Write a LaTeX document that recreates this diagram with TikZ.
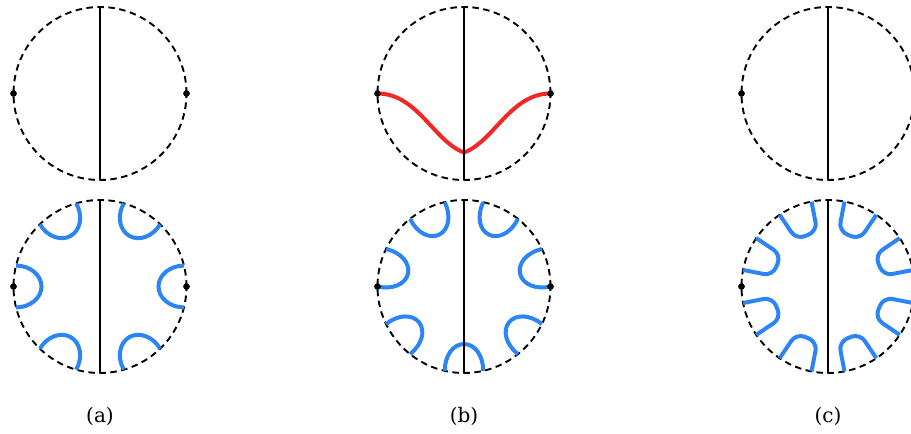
\documentclass[tikz,border=0pt]{standalone}
\usepackage{fontspec}
\setmainfont{DejaVu Serif}
\definecolor{LoopBlue}{RGB}{45,132,245}
\definecolor{PathRed}{RGB}{240,40,40}
\usepackage{tikz}
\usetikzlibrary{calc}

\newcommand{\Rd}{86.5}

\begin{document}
\begin{tikzpicture}[x=1pt, y=1pt,
    boundary/.style={black, line width=1.9pt, dash pattern=on 6.5pt off 4.5pt},
    cut/.style={black, line width=1.9pt},
    loop/.style={LoopBlue, line width=4pt},
    geod/.style={PathRed, line width=4pt},
    pin/.style={circle, fill=black, inner sep=0pt, minimum size=6.5pt},
    caption/.style={font=\fontsize{20}{24}\selectfont, anchor=base}]

  \useasboundingbox (0,0) rectangle (911,434);

  % centres of the six discs, with the ends of their cuts
  \foreach \d/\x/\y in {aT/100/340.5, aB/100/147.5, bT/464/340.5,
                        bB/464/147.5, cT/828/340.5, cB/828/147.5} {
    \coordinate (\d) at (\x,\y);
    \coordinate (\d-n) at (\x,{\y+\Rd});
    \coordinate (\d-s) at (\x,{\y-\Rd});
    \draw[boundary] (\d) circle[radius=\Rd];
  }

  % loops in the lower discs
  \begin{scope}[shift={(aB)}]
    \foreach \t in {0,60,...,300}
      \draw[loop] ({\t+14}:\Rd) .. controls +({\t+180}:14) and +({\t+90}:11.5)
                  .. ({\t}:{\Rd-28}) .. controls +({\t-90}:11.5) and +({\t+180}:14)
                  .. ({\t-14}:\Rd);
  \end{scope}
  \begin{scope}[shift={(bB)}]
    \foreach \i [evaluate=\i as \t using {270+\i*360/7}] in {0,...,6}
      \draw[loop] ({\t+12.857}:\Rd) .. controls +({\t+180}:15) and +({\t+90}:11)
                  .. ({\t}:{\Rd-29}) .. controls +({\t-90}:11) and +({\t+180}:15)
                  .. ({\t-12.857}:\Rd);
  \end{scope}
  \begin{scope}[shift={(cB)}]
    \foreach \t in {22.5,67.5,...,337.5}
      \draw[loop, rounded corners=9pt] ({\t+11.5}:\Rd) -- ({\t+11.5}:{\Rd-30})
                  -- ({\t-11.5}:{\Rd-30}) -- ({\t-11.5}:\Rd);
  \end{scope}

  % marked points
  \foreach \d in {aT,aB,bT,bB,cT,cB}
    \node[pin] (\d-w) at ($(\d)+(-\Rd,0)$) {};
  \foreach \d in {aT,aB,bT,bB}
    \node[pin] (\d-e) at ($(\d)+(\Rd,0)$) {};

  % red path in the upper disc (b)
  \coordinate (bT-dip) at ($(bT)+(0,-59)$);
  \draw[geod] (bT-w.center) .. controls +(40,0) and +(-30,11) .. (bT-dip)
              .. controls +(30,11) and +(-40,0) .. (bT-e.center);

  \foreach \d in {aT,aB,bT,bB,cT,cB}
    \draw[cut] (\d-n) -- (\d-s);

  \foreach \d in {aT,aB,bT,bB,cT,cB}
    \fill (\d-w) circle[radius=3.2];
  \foreach \d in {aT,aB,bT,bB}
    \fill (\d-e) circle[radius=3.2];

  \node[caption] (cap-a) at (100,11) {(a)};
  \node[caption] (cap-b) at (464,11) {(b)};
  \node[caption] (cap-c) at (828,11) {(c)};
\end{tikzpicture}
\end{document}
